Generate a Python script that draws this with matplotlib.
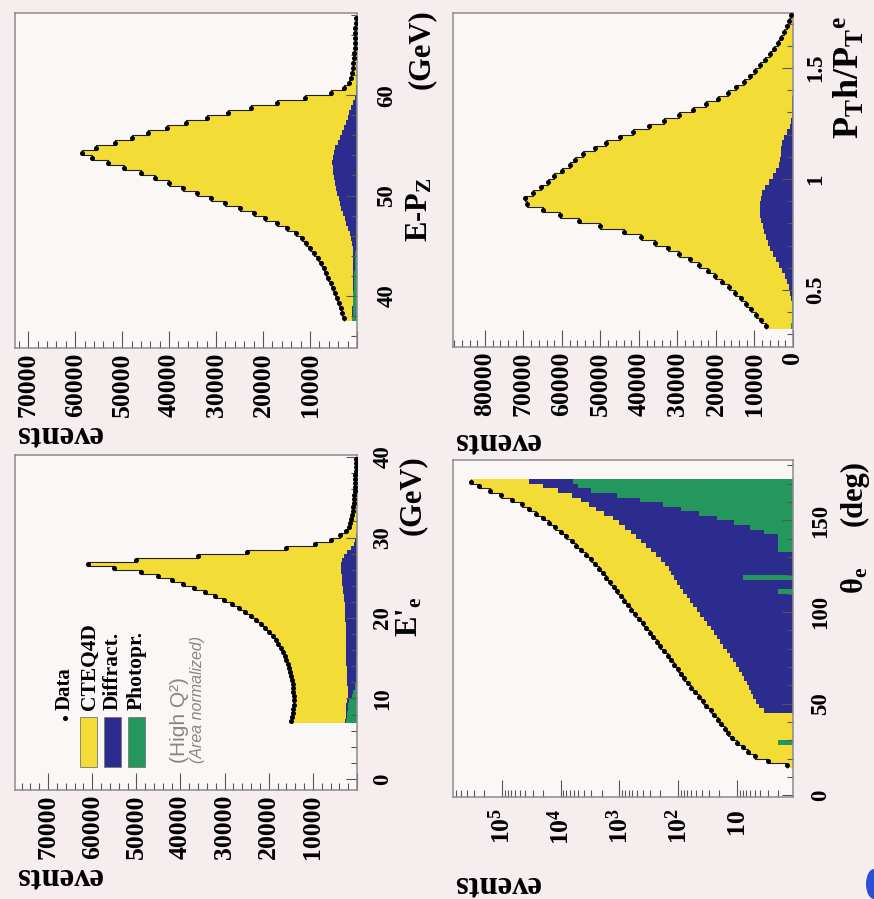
import numpy as np
import matplotlib
matplotlib.use("Agg")
import matplotlib.pyplot as plt
from matplotlib.ticker import MultipleLocator, LogLocator, NullFormatter
from matplotlib.patches import Rectangle, Ellipse

plt.rcParams['font.family'] = 'Liberation Serif'
plt.rcParams['font.weight'] = 'bold'
plt.rcParams['mathtext.fontset'] = 'custom'
plt.rcParams['mathtext.rm'] = 'Liberation Serif:bold'
plt.rcParams['mathtext.it'] = 'Liberation Serif:bold:italic'
plt.rcParams['mathtext.bf'] = 'Liberation Serif:bold'
plt.rcParams['mathtext.default'] = 'rm'

# ---- values (events per bin) ----
# E'_e  (GeV), 0.5 GeV bins
ee_edges = np.linspace(7.0, 40.0, 67)
ee_data = [15000, 14700, 14500, 14400, 14300, 14300, 14300, 14400, 14500, 14600,
           14800, 14950, 15100, 15400, 15700, 16000, 16400, 16800, 17300, 17800,
           18400, 19100, 19900, 20800, 21700, 22900, 24000, 25300, 26800, 28400,
           30200, 32200, 34500, 37000, 39500, 42000, 45000, 49000, 55000, 61000,
           50000, 36000, 25000, 16000, 9500, 6000, 3800, 2600, 1900, 1500,
           1250, 1080, 950, 850, 760, 680, 610, 550, 500, 450,
           410, 370, 330, 300, 270, 240]
ee_diff = [300, 300, 350, 400, 450, 600, 900, 1300, 1600, 1850,
           2000, 2100, 2150, 2200, 2250, 2300, 2300, 2350, 2350, 2400,
           2400, 2450, 2500, 2500, 2550, 2600, 2650, 2700, 2750, 2800,
           2900, 3000, 3100, 3200, 3300, 3400, 3500, 3600, 3700, 3700,
           3500, 3000, 2200, 1400, 700, 350, 180, 100, 50, 40,
           30, 20, 15, 10, 10, 5, 5, 5, 5, 5,
           5, 5, 5, 5, 5, 5]
ee_phot = [2400, 2300, 2200, 2100, 2000, 1700, 1200, 800, 500, 350,
           250, 200, 170, 150, 130, 120, 110, 100, 90, 80,
           70, 60, 50, 45, 40, 35, 30, 25, 20, 18,
           16, 14, 12, 10, 10, 8, 8, 6, 6, 5,
           5, 4, 4, 3, 3, 2, 2, 2, 1, 1,
           1, 1, 1, 1, 1, 1, 1, 1, 1, 1,
           1, 1, 1, 1, 1, 1]

# E-P_Z (GeV), 0.5 GeV bins
epz_edges = np.linspace(37.5, 68.0, 62)
epz_data = [2700, 3100, 3500, 3900, 4300, 4700, 5100, 5600, 6100, 6600,
            7100, 7700, 8400, 9100, 9900, 10800, 11800, 13000, 14800, 17000,
            19500, 22000, 25000, 28000, 31000, 34000, 37000, 40000, 43000, 46000,
            49500, 53000, 56500, 58500, 55500, 51500, 48000, 44500, 40500, 36500,
            32000, 27500, 22500, 17000, 11000, 5500, 2800, 1800, 1300, 1000,
            850, 750, 650, 580, 520, 470, 420, 380, 340, 300,
            270]
epz_diff = [50, 60, 70, 80, 90, 100, 120, 140, 170, 200,
            250, 300, 380, 480, 620, 800, 1050, 1350, 1700, 2100,
            2500, 2900, 3250, 3550, 3850, 4150, 4400, 4650, 4850, 5000,
            5150, 5200, 5150, 4950, 4600, 4100, 3600, 3150, 2750, 2350,
            2000, 1600, 1200, 850, 500, 250, 120, 80, 60, 50,
            40, 30, 25, 20, 20, 15, 15, 10, 10, 10,
            10]
epz_phot = [1000, 950, 900, 850, 800, 750, 700, 650, 600, 550,
            500, 450, 400, 350, 300, 260, 220, 190, 160, 140,
            120, 100, 90, 80, 70, 60, 50, 45, 40, 35,
            30, 25, 20, 20, 15, 15, 10, 10, 10, 10,
            10, 10, 10, 10, 10, 10, 5, 5, 5, 5,
            5, 5, 5, 5, 5, 5, 5, 5, 5, 5,
            5]

# P_T^h / P_T^e
pt_edges = np.linspace(0.325, 1.75, 58)
pt_data = [7000, 8300, 9600, 10900, 12200, 13600, 15100, 16700, 18400, 20200,
           22200, 24400, 26800, 29500, 32500, 35800, 39500, 44000, 50000, 55500,
           60500, 65000, 69000, 69500, 67500, 65500, 63500, 62000, 60000, 58000,
           56500, 54500, 51500, 48500, 45000, 41500, 37500, 33500, 29500, 26000,
           22500, 19500, 17000, 14800, 12800, 11200, 9800, 8500, 7200, 6000,
           5000, 4000, 3100, 2300, 1600, 1000, 500]
pt_diff = [0, 0, 0, 50, 100, 300, 600, 1000, 1500, 2100,
           2800, 3600, 4400, 5200, 5900, 6500, 7000, 7500, 7900, 8200,
           8500, 8600, 8600, 8400, 8000, 7300, 6300, 5200, 4300, 3700,
           3400, 3200, 3000, 2800, 2300, 1500, 800, 500, 350, 250,
           200, 150, 120, 100, 80, 60, 50, 40, 30, 25,
           20, 15, 10, 10, 5, 5, 5]
pt_phot = [400, 350, 300, 250, 200, 150, 120, 100, 80, 60,
           50, 40, 30, 25, 20, 15, 10, 10, 5, 5,
           5, 5, 5, 5, 5, 5, 5, 5, 5, 5,
           5, 5, 5, 5, 5, 5, 5, 5, 5, 5,
           5, 5, 5, 5, 5, 5, 5, 5, 5, 5,
           5, 5, 5, 5, 5, 5, 5]

# theta_e (deg), 2.5 deg bins, log scale
th_edges = np.linspace(15.0, 172.5, 64)
th_data = [1.4, 3, 5, 6.5, 8, 10, 12, 14, 16, 19,
           21, 25, 28, 33, 38, 45, 51, 60, 69, 79,
           91, 102, 117, 132, 151, 174, 200, 229, 263, 302,
           347, 398, 468, 537, 631, 724, 832, 955, 1100, 1260,
           1450, 1660, 1900, 2200, 2600, 3100, 3700, 4500, 5400, 6500,
           8100, 10000, 12600, 16000, 20000, 26000, 34000, 46000, 68000, 105000,
           160000, 250000, 340000]
th_diff = [0, 0, 0, 0, 0, 0, 0, 0, 0, 0,
           0, 0, 3.5, 4.2, 4.8, 5.3, 5.8, 6.3, 6.8, 7.5,
           8.3, 9.2, 10.2, 11.5, 13, 15, 17, 19.5, 22, 25,
           28, 32, 37, 42, 48, 55, 63, 72, 80, 93,
           105, 110, 130, 145, 165, 195, 234, 283, 348, 428,
           518, 636, 794, 989, 1278, 1755, 2410, 3120, 4050, 5400,
           8000, 15000, 28800]
th_phot = [0, 0, 0, 0, 0, 2, 0, 0, 0, 0,
           0, 0, 0, 0, 0, 0, 0, 0, 0, 0,
           0, 0, 0, 0, 0, 0, 0, 0, 0, 0,
           0, 0, 0, 0, 0, 0, 0, 0, 2, 0,
           0, 8, 0, 0, 0, 0, 1, 2, 2, 2,
           2, 3.5, 6, 11, 22, 45, 90, 180, 450, 1100,
           3000, 5000, 6200]

YEL = '#f4dc36'
BLU = '#2c2b8e'
GRN = '#23975c'
PAGE = '#f6eeee'
INNER = '#fbf7f6'

fig = plt.figure(figsize=(8.74, 8.99), dpi=100, facecolor=PAGE)
W, H = 874.0, 899.0


def make_axes(x0, x1, y0, y1):
    ax = fig.add_axes([x0 / W, 1 - y1 / H, (x1 - x0) / W, (y1 - y0) / H])
    ax.set_facecolor(INNER)
    for s in ax.spines.values():
        s.set_color('#8c8c8c')
        s.set_linewidth(1.1)
    return ax


def draw_hist(ax, edges, data, diff, phot, floor=0):
    data = np.asarray(data, float)
    diff = np.asarray(diff, float)
    phot = np.asarray(phot, float)
    ax.stairs(np.maximum(data, floor), edges, orientation='horizontal',
              baseline=floor, fill=True, color=YEL, lw=0)
    ax.stairs(np.maximum(diff + phot, floor), edges, orientation='horizontal',
              baseline=floor, fill=True, color=BLU, lw=0)
    ax.stairs(np.maximum(phot, floor), edges, orientation='horizontal',
              baseline=floor, fill=True, color=GRN, lw=0)
    ax.stairs(data, edges, orientation='horizontal', baseline=None,
              color='#202020', lw=0.8)
    centers = 0.5 * (edges[:-1] + edges[1:])
    ax.plot(data, centers, 'o', ms=2.6, color='black', zorder=5)


def events_axis(ax, xmax, ticks, show_zero=False):
    ax.set_xlim(xmax, 0)
    labels = [('%d' % t) if (t > 0 or show_zero) else '' for t in ticks]
    ax.set_xticks(ticks, labels, rotation=90, fontsize=18.5)
    ax.xaxis.set_minor_locator(MultipleLocator(2000))
    ax.tick_params(axis='x', which='both', direction='in', bottom=True, top=False,
                   pad=3, color='#555555', width=0.8)
    ax.tick_params(axis='x', which='major', length=12)
    ax.tick_params(axis='x', which='minor', length=5)


def var_axis(ax, ylim, ticks, labels, minor, pad):
    ax.set_ylim(*ylim)
    ax.yaxis.tick_right()
    ax.set_yticks(ticks, labels, rotation=90, va='center', fontsize=16.5)
    ax.yaxis.set_minor_locator(MultipleLocator(minor))
    ax.tick_params(axis='y', which='both', direction='in', left=False, right=True,
                   pad=pad, color='#555555', width=0.8)
    ax.tick_params(axis='y', which='major', length=8)
    ax.tick_params(axis='y', which='minor', length=4)


def events_label(ax, y):
    ax.text(0.0, y, 'events', rotation=180, ha='left', va='top',
            fontsize=23.5, transform=ax.transAxes)


def title(ax, x, y, s, size=22):
    ax.text(x, y, s, rotation=90, ha='left', va='top', fontsize=size,
            transform=ax.transAxes)


# ---- top-left: E-P_Z ----
ax1 = make_axes(15, 357, 13, 348)
draw_hist(ax1, epz_edges, epz_data, epz_diff, epz_phot)
events_axis(ax1, 72800, [0, 10000, 20000, 30000, 40000, 50000, 60000, 70000])
var_axis(ax1, (34.8, 68.2), [40, 50, 60], ['40', '50', '60'], 2, 14)
events_label(ax1, -0.212)
title(ax1, 1.14, 0.51, 'E-P$_\\mathrm{Z}$')
title(ax1, 1.146, 1.01, '(GeV)')

# ---- top-right: P_T^h / P_T^e ----
ax2 = make_axes(453, 793, 13, 347)
draw_hist(ax2, pt_edges, pt_data, pt_diff, pt_phot)
events_axis(ax2, 88300, [0, 10000, 20000, 30000, 40000, 50000, 60000, 70000, 80000],
            show_zero=True)
var_axis(ax2, (0.243, 1.748), [0.5, 1.0, 1.5], ['0.5', '1', '1.5'], 0.1, 9)
events_label(ax2, -0.237)
title(ax2, 1.118, 0.992, 'P$_\\mathrm{T}$h/P$_\\mathrm{T}$$^\\mathrm{e}$', size=26)

# ---- bottom-left: E'_e with legend ----
ax3 = make_axes(15, 357, 455, 790)
draw_hist(ax3, ee_edges, ee_data, ee_diff, ee_phot)
events_axis(ax3, 77500, [0, 10000, 20000, 30000, 40000, 50000, 60000, 70000])
var_axis(ax3, (-1.37, 40.25), [0, 10, 20, 30, 40], ['0', '10', '20', '30', '40'], 2, 11)
events_label(ax3, -0.212)
title(ax3, 1.111, 0.576, "E'$_\\mathrm{e}$")
title(ax3, 1.12, 1.0, '(GeV)')

legend_items = [('CTEQ4D', YEL, 0.190, 0.218),
                ('Diffract.', BLU, 0.260, 0.285),
                ('Photopr.', GRN, 0.330, 0.355)]
for name, col, bx, tx in legend_items:
    ax3.add_patch(Rectangle((bx, 0.069), 0.051, 0.149, transform=ax3.transAxes,
                            facecolor=col, edgecolor='#777777', lw=0.6))
    ax3.text(tx, 0.239, name, rotation=90, ha='center', va='bottom',
             fontsize=15.5, transform=ax3.transAxes)
ax3.plot([0.146], [0.215], 'o', ms=2.6, color='black', transform=ax3.transAxes)
ax3.text(0.146, 0.239, 'Data', rotation=90, ha='center', va='bottom',
         fontsize=15, transform=ax3.transAxes)
ax3.text(0.482, 0.081, '(High Q²)', rotation=90, ha='center', va='bottom',
         fontsize=15, family='Liberation Sans', fontweight='normal',
         color='#8a8585', transform=ax3.transAxes)
ax3.text(0.535, 0.081, '(Area normalized)', rotation=90, ha='center', va='bottom',
         fontsize=11.5, family='Liberation Sans', fontweight='normal', style='italic',
         color='#8a8585', transform=ax3.transAxes)

# ---- bottom-right: theta_e, log scale ----
ax4 = make_axes(453, 793, 460, 797)
ax4.set_xscale('log')
draw_hist(ax4, th_edges, th_data, th_diff, th_phot, floor=0.05)
ax4.set_xlim(6.8e5, 1.11)
ax4.set_xticks([10, 1e2, 1e3, 1e4, 1e5],
               ['10', '$10^{2}$', '$10^{3}$', '$10^{4}$', '$10^{5}$'],
               rotation=90, fontsize=18.5)
ax4.xaxis.set_minor_locator(LogLocator(base=10, subs=np.arange(2, 10)))
ax4.xaxis.set_minor_formatter(NullFormatter())
ax4.tick_params(axis='x', which='both', direction='in', bottom=True, top=False,
                pad=8, color='#555555', width=0.8)
ax4.tick_params(axis='x', which='major', length=12)
ax4.tick_params(axis='x', which='minor', length=5)
var_axis(ax4, (-1, 183), [0, 50, 100, 150], ['0', '50', '100', '150'], 10, 12)
events_label(ax4, -0.214)
title(ax4, 1.138, 0.682, '$\\theta_\\mathrm{e}$')
title(ax4, 1.138, 1.0, '(deg)')

# blue blot at the page corner
fig.add_artist(Ellipse((1.0, 1 - 884 / H), 16 / W, 30 / H, transform=fig.transFigure,
                       color='#2a4fd6', lw=0))

fig.savefig('out.png', dpi=100, facecolor=PAGE)
